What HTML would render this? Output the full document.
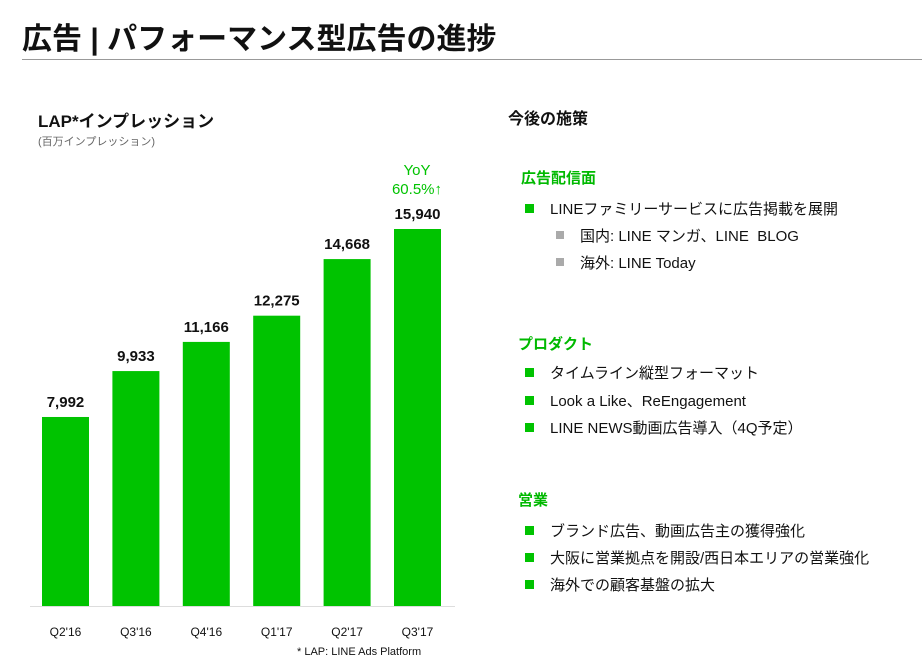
<!DOCTYPE html>
<html><head><meta charset="utf-8"><style>
body{margin:0;width:922px;height:667px;background:#fff;font-family:"Liberation Sans","Noto Sans CJK JP",sans-serif;position:relative;overflow:hidden}
.a{position:absolute;white-space:nowrap}
.h{color:#00b900;font-weight:bold;font-size:15px}
.t{font-size:15px;color:#111}
.sq{position:absolute;width:9px;height:9px;background:#00c300}
.sg{position:absolute;width:8px;height:8px;background:#aaa}
</style></head><body>
<div class="a" style="left:22px;top:14px;font-size:30px;font-weight:bold;color:#111">広告 | パフォーマンス型広告の進捗</div>
<div class="a" style="left:22px;top:59px;width:900px;height:1px;background:#999"></div>
<div class="a" style="left:38px;top:107px;font-size:17px;font-weight:bold;color:#111">LAP*インプレッション</div>
<div class="a" style="left:38px;top:133px;font-size:11px;color:#666">(百万インプレッション)</div>
<div class="a" style="left:377px;top:161px;width:80px;text-align:center;font-size:15px;color:#00c300;line-height:19px">YoY<br>60.5%↑</div>
<svg class="a" style="left:0;top:0" width="922" height="667" id="chart"></svg>
<div class="a" style="left:297px;top:646px;font-size:11px;color:#111">* LAP: LINE Ads Platform</div>

<div class="a" style="left:508px;top:105px;font-size:16px;font-weight:bold;color:#111">今後の施策</div>

<div class="a h" style="left:521px;top:167px">広告配信面</div>
<div class="sq" style="left:525px;top:204px"></div>
<div class="a t" style="left:550px;top:198px">LINEファミリーサービスに広告掲載を展開</div>
<div class="sg" style="left:556px;top:231px"></div>
<div class="a t" style="left:580px;top:225px">国内: LINE マンガ、LINE&nbsp; BLOG</div>
<div class="sg" style="left:556px;top:258px"></div>
<div class="a t" style="left:580px;top:252px">海外: LINE Today</div>

<div class="a h" style="left:518px;top:333px">プロダクト</div>
<div class="sq" style="left:525px;top:368px"></div>
<div class="a t" style="left:550px;top:362px">タイムライン縦型フォーマット</div>
<div class="sq" style="left:525px;top:396px"></div>
<div class="a t" style="left:550px;top:390px">Look a Like、ReEngagement</div>
<div class="sq" style="left:525px;top:423px"></div>
<div class="a t" style="left:550px;top:417px">LINE NEWS動画広告導入（4Q予定）</div>

<div class="a h" style="left:518px;top:489px">営業</div>
<div class="sq" style="left:525px;top:526px"></div>
<div class="a t" style="left:550px;top:520px">ブランド広告、動画広告主の獲得強化</div>
<div class="sq" style="left:525px;top:553px"></div>
<div class="a t" style="left:550px;top:547px">大阪に営業拠点を開設/西日本エリアの営業強化</div>
<div class="sq" style="left:525px;top:580px"></div>
<div class="a t" style="left:550px;top:574px">海外での顧客基盤の拡大</div>

<script>
const categories=["Q2'16","Q3'16","Q4'16","Q1'17","Q2'17","Q3'17"];
const values=[7992,9933,11166,12275,14668,15940];
const valueLabels=["7,992","9,933","11,166","12,275","14,668","15,940"];
const svg=document.getElementById('chart');
const NS='http://www.w3.org/2000/svg';
const y0=606, scale=377/15940, x0=42, step=70.4, bw=47;
const y=v=>y0-v*scale, x=i=>x0+i*step;
function mk(t,a){const e=document.createElementNS(NS,t);for(const k in a)e.setAttribute(k,a[k]);svg.appendChild(e);return e;}
categories.forEach((c,i)=>{
 const r=mk('rect',{x:x(i),y:y(values[i]),width:bw,height:values[i]*scale,fill:'#00c300'});
 
 
 const v=mk('text',{x:x(i)+bw/2,y:y(values[i])-10,'text-anchor':'middle','font-size':15,'font-weight':'bold',fill:'#111','font-family':'Liberation Sans'});
 v.textContent=valueLabels[i];
 
 
 const l=mk('text',{x:x(i)+bw/2,y:636,'text-anchor':'middle','font-size':12,fill:'#111','font-family':'Liberation Sans'});
 l.textContent=c;
 
 
});
const ax=mk('line',{x1:30,x2:455,y1:y0+0.5,y2:y0+0.5,stroke:'#ddd'});


</script>
</body></html>
